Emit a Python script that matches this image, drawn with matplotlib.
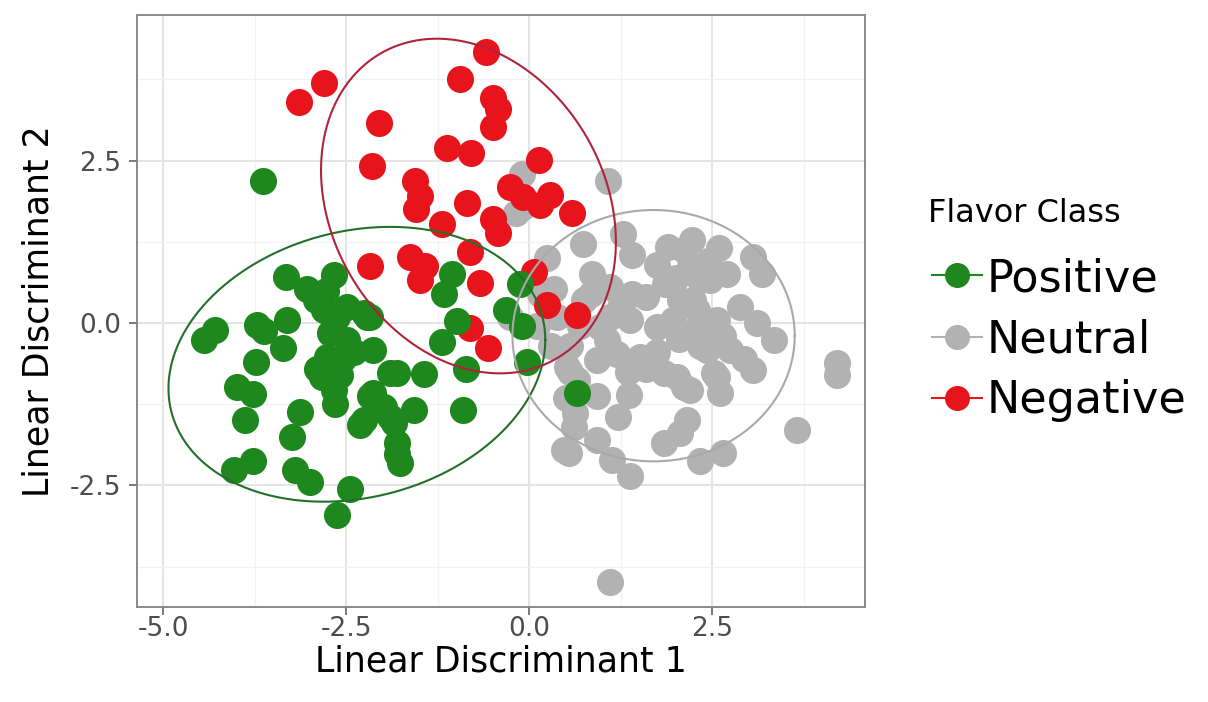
import numpy as np
import matplotlib.pyplot as plt
from matplotlib.lines import Line2D

plt.rcParams['font.family'] = ['DejaVu Sans']
plt.rcParams['axes.unicode_minus'] = False

classes = ["Positive", "Neutral", "Negative"]
point_colors = ["#1E871E", "#B2B2B2", "#E8141C"]
ring_colors = ["#24702A", "#A9A9A9", "#B0243A"]

# Positive (green) scores
pos_ld1 = [-3.64, -3.33, -3.04, -2.67, -4.29, -4.45, -3.72, -3.63, -3.31, -3.36,
           -3.74, -3.99, -3.77, -3.88, -3.13, -3.24, -4.04, -3.77, -3.20, -2.99,
           -2.45, -2.63, -2.22, -2.13, -2.65, -2.26, -1.81, -1.76, -2.13, -2.81,
           -2.72, -2.76, -2.83, -2.67, -2.63, -2.49, -1.90, -1.99, -1.85, -1.90,
           -1.58, -0.90, -1.81, -1.44, -1.19, -0.99, -0.87, -2.17, -0.03, -0.10,
           -0.32, -1.17, -1.05, -0.12, -2.26, -2.49, -1.81, -2.31, -2.17, 0.65,
           -2.78, -2.92, -2.55, -2.58, -2.90, -2.40]
pos_ld2 = [2.19, 0.71, 0.53, 0.74, -0.11, -0.26, -0.03, -0.13, 0.05, -0.39,
           -0.60, -0.98, -1.10, -1.49, -1.37, -1.75, -2.26, -2.13, -2.26, -2.44,
           -2.55, -2.95, 0.10, -0.42, -1.24, -1.49, -2.01, -2.16, -1.08, 0.20,
           -0.16, -0.52, -0.83, -1.03, 0.10, -0.26, -0.77, -1.29, -1.54, -1.44,
           -1.34, -1.34, -0.77, -0.78, -0.29, 0.03, -0.70, 0.10, -0.60, -0.05,
           0.20, 0.45, 0.75, 0.60, 0.15, 0.25, -1.85, -1.57, -1.13, -1.08,
           0.50, 0.35, -0.55, -0.80, -0.70, -0.45]

# Neutral (grey) scores
neu_ld1 = [-0.10, 1.08, -0.18, 0.74, 1.28, 1.41, 0.86, 1.90, 2.22, 3.06,
           3.18, 0.34, 2.70, 2.47, 2.34, 2.88, 3.11, 3.34, 4.20, 4.20,
           3.66, 3.06, 2.93, 2.65, 2.75, 2.52, 2.61, 2.20, 2.15, 2.06,
           2.06, 2.24, 2.20, 2.11, 1.11, 0.54, 0.92, 1.13, 1.38, 2.34,
           2.65, 1.84, 1.36, 1.22, 0.63, 0.61, 0.65, 0.92, 0.56, 1.84,
           2.11, 1.52, 1.20, 0.92, 1.97, 2.20, 1.74, 1.38, 1.06, 2.29,
           2.56, 2.43, 2.56, 2.02, 2.34, 0.38, 0.56, 0.97, 0.51, 0.47,
           1.10, 1.25, 1.60, 1.85, 1.75, 2.00, 1.10, 0.75, 0.70, 1.75,
           2.05, 1.60, 1.35, 0.85, 1.40, 2.45, 2.60, 2.40, 0.15, 0.10,
           0.30, 0.25, -0.26, -0.08, 0.50]
neu_ld2 = [2.30, 2.18, 1.69, 1.22, 1.37, 1.05, 0.76, 1.17, 1.27, 1.02,
           0.76, 0.52, 0.76, 0.66, 0.66, 0.25, 0.00, -0.26, -0.62, -0.80,
           -1.65, -0.72, -0.55, -0.20, -0.42, -0.77, -1.08, -1.03, -1.49, -1.70,
           0.35, 0.35, 0.87, 1.12, -3.98, -2.00, -1.80, -2.11, -2.36, -2.13,
           -2.00, -1.85, -1.11, -1.44, -1.39, -1.60, -0.88, -1.13, -0.75, -0.77,
           -0.98, -0.52, -0.47, -0.57, 0.05, -0.16, -0.06, 0.05, -0.26, 0.20,
           0.05, -0.42, -0.83, -0.83, -0.36, 0.10, -0.36, -0.06, -0.67, -1.95,
           0.55, 0.30, 0.40, 0.60, 0.90, 0.70, 0.10, 0.35, -0.05, -0.45,
           -0.25, -0.70, -0.75, 0.45, 0.45, 0.95, 1.15, -0.05, 0.45, -0.05,
           -0.35, 1.00, 0.09, 1.79, -1.15]

# Negative (red) scores
neg_ld1 = [-0.59, -2.80, -3.15, -0.94, -0.49, -0.42, -0.49, -2.05, -1.12, -0.80,
           0.14, -2.15, -1.56, -1.49, -1.55, -0.85, -0.26, -0.08, 0.29, 0.15,
           0.58, -1.19, -0.49, -0.42, -2.17, -1.63, -1.42, -1.49, -0.81, -0.67,
           0.06, 0.24, 0.65, -0.81, -0.56]
neg_ld2 = [4.17, 3.69, 3.40, 3.75, 3.46, 3.30, 3.02, 3.07, 2.69, 2.62,
           2.51, 2.42, 2.18, 1.95, 1.75, 1.85, 2.10, 1.94, 1.97, 1.82,
           1.69, 1.53, 1.60, 1.38, 0.88, 1.02, 0.87, 0.66, 1.10, 0.61,
           0.79, 0.28, 0.12, -0.08, -0.39]

# 95% ellipses: centre and covariance-like shape matrix
pos_center = [-2.355, -0.635]
pos_shape = [[6.63, 0.96], [0.96, 4.47]]
neu_center = [1.70, -0.195]
neu_shape = [[3.72, 0.0], [0.0, 3.74]]
neg_center = [-0.83, 1.80]
neg_shape = [[4.06, -1.11], [-1.11, 6.63]]

xticks = [-5.0, -2.5, 0.0, 2.5]
yticks = [-2.5, 0.0, 2.5]

fig = plt.figure(figsize=(12.08, 7.02), dpi=100)
ax = fig.add_axes([0.1134, 0.1353, 0.6027, 0.8434])

def ring(center, shape):
    t = np.linspace(0, 2 * np.pi, 300)
    L = np.linalg.cholesky(np.array(shape))
    pts = np.array(center)[:, None] + L @ np.vstack([np.cos(t), np.sin(t)])
    return pts[0], pts[1]

size = 380
ax.scatter(neu_ld1, neu_ld2, s=size, c=point_colors[1], linewidths=0, zorder=3)
ax.scatter(neg_ld1, neg_ld2, s=size, c=point_colors[2], linewidths=0, zorder=3)
ax.scatter(pos_ld1, pos_ld2, s=size, c=point_colors[0], linewidths=0, zorder=3)

for (c, sh), col in zip([(pos_center, pos_shape), (neu_center, neu_shape),
                         (neg_center, neg_shape)], ring_colors):
    ex, ey = ring(c, sh)
    ax.plot(ex, ey, color=col, lw=1.5, zorder=4)

ax.set_xlim(-5.36, 4.59)
ax.set_ylim(-4.37, 4.74)
ax.set_xticks(xticks)
ax.set_xticklabels([f"{v:.1f}" for v in xticks])
ax.set_yticks(yticks)
ax.set_yticklabels([f"{v:.1f}" for v in yticks])
ax.set_xticks([-3.75, -1.25, 1.25, 3.75], minor=True)
ax.set_yticks([-3.75, -1.25, 1.25, 3.75], minor=True)
ax.grid(which='major', color='#E4E4E4', lw=1.4, zorder=0)
ax.grid(which='minor', color='#F2F2F2', lw=0.9, zorder=0)
ax.set_axisbelow(True)
ax.tick_params(which='major', length=5.5, width=1.1, color='#555555',
               labelsize=19, labelcolor='#4D4D4D')
ax.tick_params(axis='x', pad=1)
ax.tick_params(axis='y', pad=6)
ax.tick_params(which='minor', length=0)
for sp in ax.spines.values():
    sp.set_color('#8A8A8A')
    sp.set_linewidth(1.4)

ax.set_xlabel("Linear Discriminant 1", fontsize=25, labelpad=2)
ax.set_ylabel("Linear Discriminant 2", fontsize=25, labelpad=10)

fig.text(928 / 1208, 1 - 213 / 702, "Flavor Class", fontsize=23,
         ha='left', va='center')
handles = [Line2D([], [], color=col, marker='o', markersize=17, lw=1.5)
           for col in point_colors]
leg = fig.legend(handles, classes, loc='upper left',
                 bbox_to_anchor=(932 / 1208, 1 - 257 / 702), frameon=False,
                 fontsize=32, handlelength=1.12, handletextpad=0.12,
                 labelspacing=0.41, borderpad=0, borderaxespad=0)

fig.savefig("out.png", dpi=100)
